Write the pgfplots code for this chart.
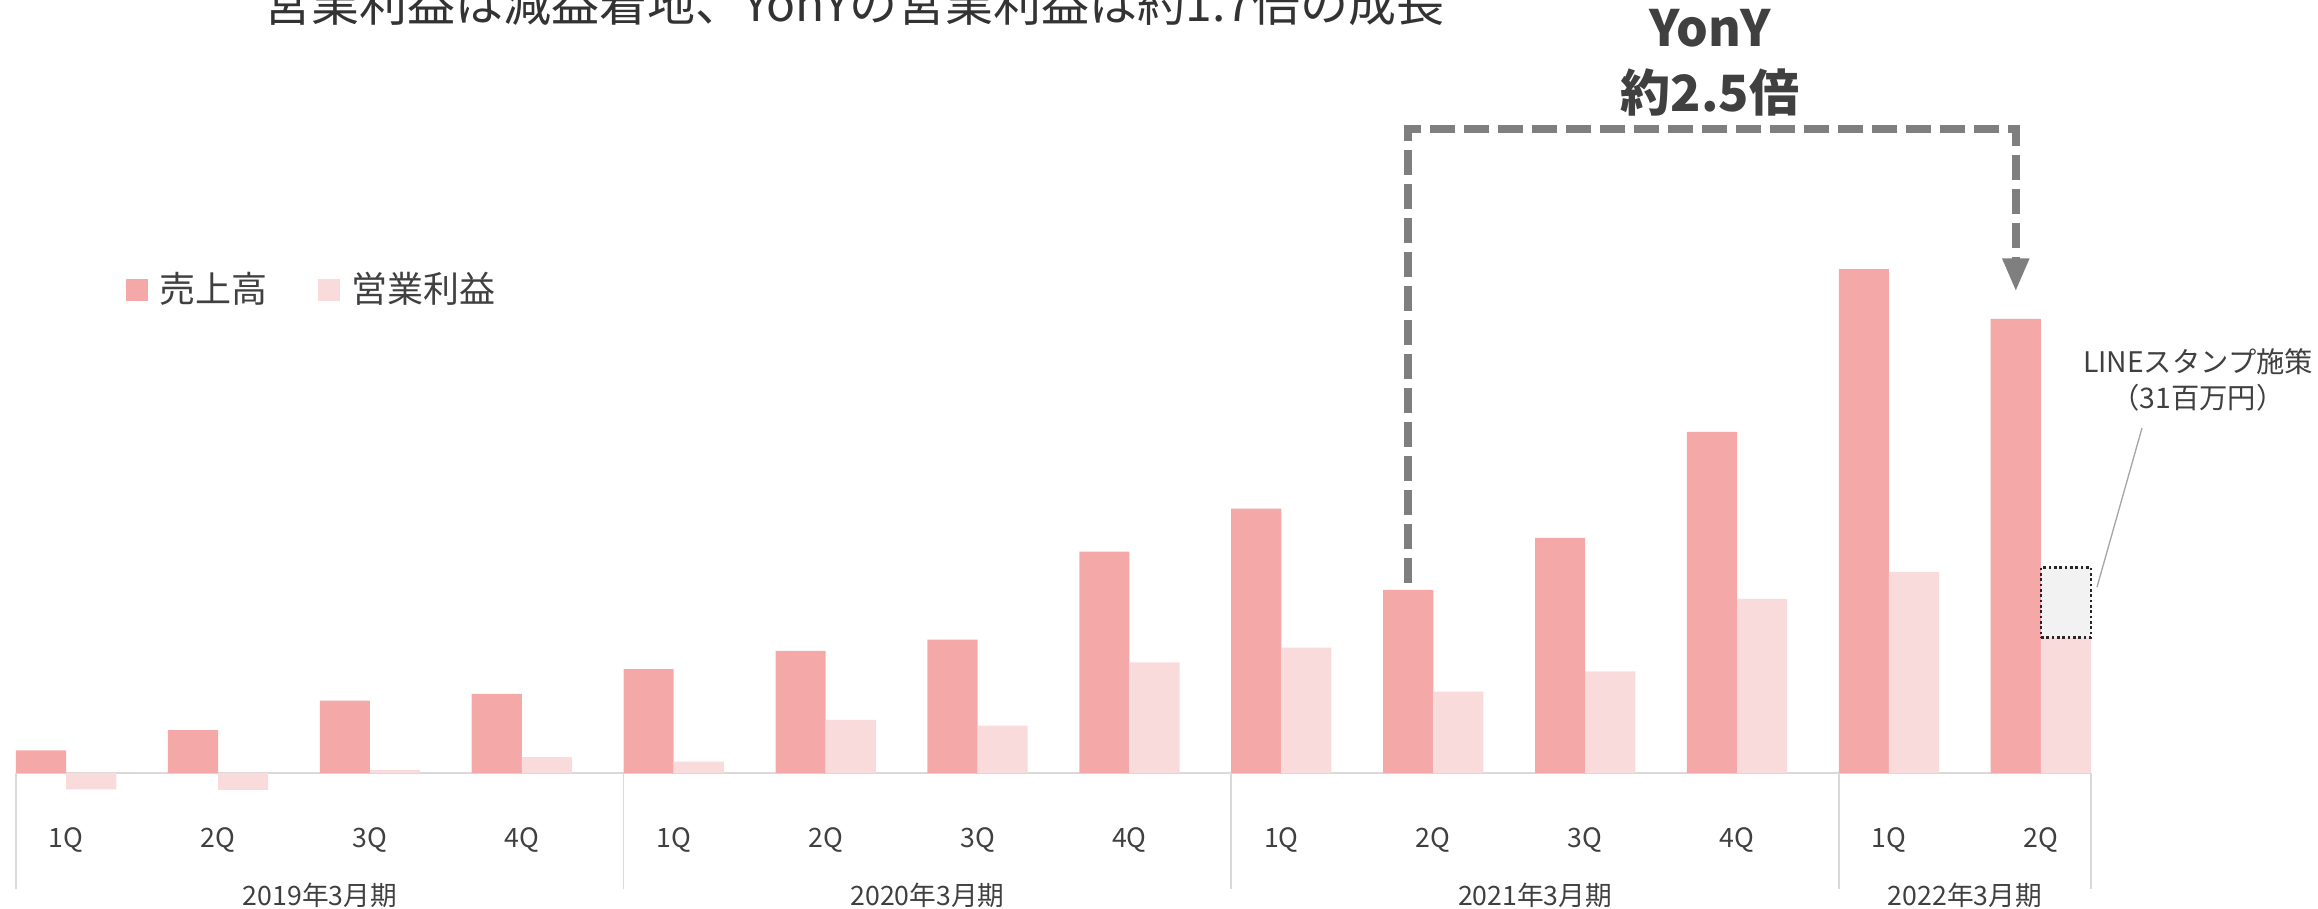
\documentclass[border=0pt]{standalone}
\usepackage{fontspec}
\setmainfont{Noto Sans CJK JP}
\usepackage{pgfplots}
\pgfplotsset{compat=1.18}
\usetikzlibrary{arrows.meta}

\definecolor{sales}{HTML}{F4A9A8}
\definecolor{profit}{HTML}{FADBDC}
\definecolor{boxfill}{HTML}{F2F2F2}
\definecolor{boxline}{HTML}{262626}
\definecolor{arrowgray}{HTML}{7F7F7F}
\definecolor{axisgray}{HTML}{D9D9D9}
\definecolor{leadgray}{HTML}{A6A6A6}
\definecolor{txt}{HTML}{404040}
\definecolor{titletxt}{HTML}{333333}

% quarterly values, million yen
\pgfplotstableread{
k  sales  profit
0  10     -7.2
1  19     -7.5
2  32      1.3
3  35      7
4  46      5
5  54     23.5
6  59     21
7  98     49
8  117    55.5
9  81     36
10 104    45
11 151    77
12 223    89
13 201    60
}\quarters

\begin{document}
\begin{tikzpicture}[x=0.3pt,y=0.3pt]
\useasboundingbox (0,0) rectangle (2318,908);

% title, partly cut off at the top as in the source slide
\node[anchor=base, text=titletxt, font=\fontsize{14.4}{16}\selectfont]
  at (854,887) {営業利益は減益着地、YonYの営業利益は約1.7倍の成長};

\begin{axis}[
    at={(4.8pt,40.5pt)}, anchor=south west,
    scale only axis,
    width=622.5pt, height=162.72pt,
    xmin=-0.33, xmax=13.33,
    ymin=0, ymax=240,
    clip=false,
    axis y line=none,
    axis x line*=bottom,
    x axis line style={draw=axisgray, line width=0.8pt},
    xtick={0,...,13},
    xticklabels={1Q,2Q,3Q,4Q,1Q,2Q,3Q,4Q,1Q,2Q,3Q,4Q,1Q,2Q},
    major tick length=0pt,
    xticklabel style={anchor=center, yshift=-20.1pt, text=txt,
        font=\fontsize{8}{9}\selectfont},
    legend columns=2,
    legend style={at={(0.0528,0.8905)}, anchor=west, draw=none, fill=none,
        inner sep=0pt, font=\fontsize{10.8}{12}\selectfont,
        nodes={inner sep=0pt, text=txt},
        /tikz/every odd column/.append style={column sep=3.5pt},
        /tikz/every even column/.append style={column sep=15.3pt}},
]
\addplot[ybar, bar width=0.33, bar shift=-0.165, fill=sales, draw=none,
    legend image code/.code={\fill[sales] (0pt,-3.2pt) rectangle (6.4pt,3.2pt);}]
    table[x=k, y=sales] {\quarters};
\addlegendentry{売上高}
\addplot[ybar, bar width=0.33, bar shift=0.165, fill=profit, draw=none,
    legend image code/.code={\fill[profit] (0pt,-3.2pt) rectangle (6.4pt,3.2pt);}]
    table[x=k, y=profit] {\quarters};
\addlegendentry{営業利益}

% one-off LINE sticker cost on top of 2022 2Q profit
\addplot[sharp plot, forget plot, fill=boxfill, draw=boxline, line width=0.8pt,
    dash pattern=on 0.8pt off 0.8pt]
    coordinates {(13,60) (13.33,60) (13.33,91) (13,91)} -- cycle;

% fiscal year separators and labels
\draw[axisgray, line width=0.5pt] (axis cs:-0.33,0) -- ++(0pt,-34.8pt);
\draw[axisgray, line width=0.5pt] (axis cs:3.67,0) -- ++(0pt,-34.8pt);
\draw[axisgray, line width=0.5pt] (axis cs:7.67,0) -- ++(0pt,-34.8pt);
\draw[axisgray, line width=0.5pt] (axis cs:11.67,0) -- ++(0pt,-34.8pt);
\draw[axisgray, line width=0.5pt] (axis cs:13.33,0) -- ++(0pt,-34.8pt);
\node[text=txt, font=\fontsize{8}{9}\selectfont] at (axis cs:1.67,0) [yshift=-36.6pt] {2019年3月期};
\node[text=txt, font=\fontsize{8}{9}\selectfont] at (axis cs:5.67,0) [yshift=-36.6pt] {2020年3月期};
\node[text=txt, font=\fontsize{8}{9}\selectfont] at (axis cs:9.67,0) [yshift=-36.6pt] {2021年3月期};
\node[text=txt, font=\fontsize{8}{9}\selectfont] at (axis cs:12.5,0) [yshift=-36.6pt] {2022年3月期};

% YonY bracket
\draw[arrowgray, line width=2.4pt, dash pattern=on 7.5pt off 2.7pt,
      -{Triangle[width=7.5pt,length=10pt]}]
  (axis cs:8.835,84) |- (axis cs:12.835,285) -- (axis cs:12.835,213);
\end{axis}

\node[text=txt, font=\bfseries\fontsize{15}{17}\selectfont] at (1710,880) {YonY};
\node[text=txt, font=\bfseries\fontsize{15}{17}\selectfont] at (1710,816) {約2.5倍};

% callout for the LINE sticker campaign
\draw[leadgray, line width=0.4pt] (2097,321) -- (2142,480);
\node[text=txt, align=center, font=\fontsize{8.5}{10.8}\selectfont]
  at (2198,528) {LINEスタンプ施策\\（31百万円）};
\end{tikzpicture}
\end{document}
